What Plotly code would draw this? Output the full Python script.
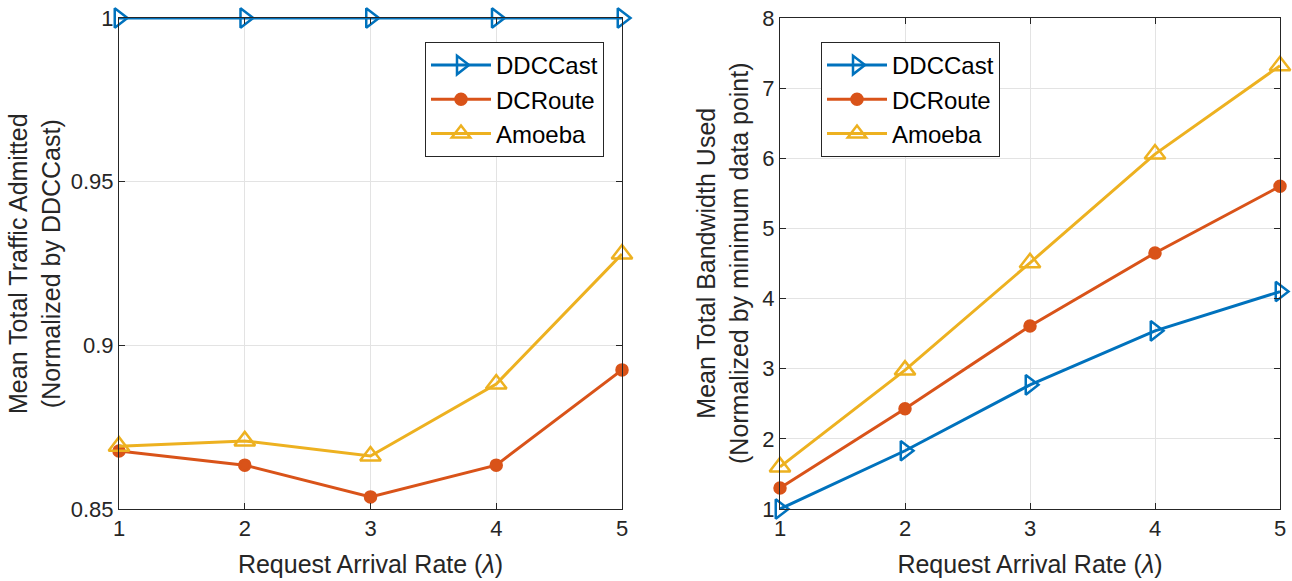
import plotly.graph_objects as go

rates = [1, 2, 3, 4, 5]
series_names = ["DDCCast", "DCRoute", "Amoeba"]

# Left panel: normalized traffic admitted
admit_ddccast = [1.0, 1.0, 1.0, 1.0, 1.0]
admit_dcroute = [0.8677, 0.8634, 0.8537, 0.8634, 0.8925]
admit_amoeba = [0.8692, 0.8708, 0.8662, 0.8882, 0.9279]

# Right panel: normalized bandwidth used
bw_ddccast = [1.0, 1.83, 2.77, 3.54, 4.10]
bw_dcroute = [1.30, 2.43, 3.61, 4.65, 5.60]
bw_amoeba = [1.60, 2.98, 4.51, 6.06, 7.32]

left_ticks = [0.85, 0.9, 0.95, 1]
left_ticktext = ["0.85", "0.9", "0.95", "1"]
right_ticks = [1, 2, 3, 4, 5, 6, 7, 8]

x_title = "Request Arrival Rate (<i>λ</i>)"
left_y_title = "Mean Total Traffic Admitted<br>(Normalized by DDCCast)"
right_y_title = "Mean Total Bandwidth Used<br>(Normalized by minimum data point)"

colors = ["#0072BD", "#D95319", "#EDB120"]
symbols = ["triangle-right-open", "circle", "triangle-up-open"]
msizes = [17, 11, 18]

FONT = "Liberation Sans, Arial, sans-serif"
TXT = "#262626"

fig = go.Figure()

for i, ys in enumerate([admit_ddccast, admit_dcroute, admit_amoeba]):
    fig.add_trace(go.Scatter(
        x=rates, y=ys, name=series_names[i], mode="lines+markers",
        line=dict(color=colors[i], width=3),
        marker=dict(symbol=symbols[i], size=msizes[i], color=colors[i],
                    line=dict(color=colors[i], width=2.5)),
        xaxis="x", yaxis="y", legend="legend", cliponaxis=False,
    ))

for i, ys in enumerate([bw_ddccast, bw_dcroute, bw_amoeba]):
    fig.add_trace(go.Scatter(
        x=rates, y=ys, name=series_names[i], mode="lines+markers",
        line=dict(color=colors[i], width=3),
        marker=dict(symbol=symbols[i], size=msizes[i], color=colors[i],
                    line=dict(color=colors[i], width=2.5)),
        xaxis="x2", yaxis="y2", legend="legend2", cliponaxis=False,
    ))

axis_common = dict(
    showline=True, linecolor=TXT, linewidth=1, mirror="allticks",
    ticks="inside", ticklen=6, tickcolor=TXT, automargin=False,
    showgrid=True, gridcolor="#e3e3e3", gridwidth=1, zeroline=False,
    tickfont=dict(family=FONT, size=22, color=TXT),
)

TITLE_FONT = dict(family=FONT, size=25, color=TXT)
y_dom = [1 - 509 / 581, 1 - 18 / 581]
y_mid = (y_dom[0] + y_dom[1]) / 2

fig.update_layout(
    width=1292, height=581,
    margin=dict(l=0, r=0, t=0, b=0, autoexpand=False),
    paper_bgcolor="white", plot_bgcolor="white",
    font=dict(family=FONT, color=TXT),
    xaxis=dict(domain=[119 / 1292, 622 / 1292], range=[1, 5], tickvals=rates,
               title=dict(text=x_title, font=TITLE_FONT),
               anchor="y", **axis_common),
    yaxis=dict(domain=y_dom, range=[0.85, 1.0], tickvals=left_ticks, ticktext=left_ticktext,
               anchor="x", **axis_common),
    xaxis2=dict(domain=[780 / 1292, 1280 / 1292], range=[1, 5], tickvals=rates,
                title=dict(text=x_title, font=TITLE_FONT),
                anchor="y2", **axis_common),
    yaxis2=dict(domain=y_dom, range=[1, 8], tickvals=right_ticks,
                anchor="x2", **axis_common),
    annotations=[
        dict(text=left_y_title, textangle=-90, xref="paper", yref="paper",
             x=67 / 1292, y=y_mid, xanchor="right", yanchor="middle",
             showarrow=False, font=TITLE_FONT, align="center"),
        dict(text=right_y_title, textangle=-90, xref="paper", yref="paper",
             x=755 / 1292, y=y_mid, xanchor="right", yanchor="middle",
             showarrow=False, font=TITLE_FONT, align="center"),
    ],
    legend=dict(x=604 / 1292, y=1 - 42 / 581,
                xanchor="right", yanchor="top",
                bgcolor="white", bordercolor=TXT, borderwidth=1,
                font=dict(family=FONT, size=24, color="black"), itemwidth=60,
                tracegroupgap=0),
    legend2=dict(x=821 / 1292, y=1 - 42 / 581,
                 xanchor="left", yanchor="top",
                 bgcolor="white", bordercolor=TXT, borderwidth=1,
                 font=dict(family=FONT, size=24, color="black"), itemwidth=60,
                 tracegroupgap=0),
)

fig.write_html("out.html", config={"displayModeBar": False},
               post_script="document.body.style.margin='0';document.body.style.overflow='hidden';")
